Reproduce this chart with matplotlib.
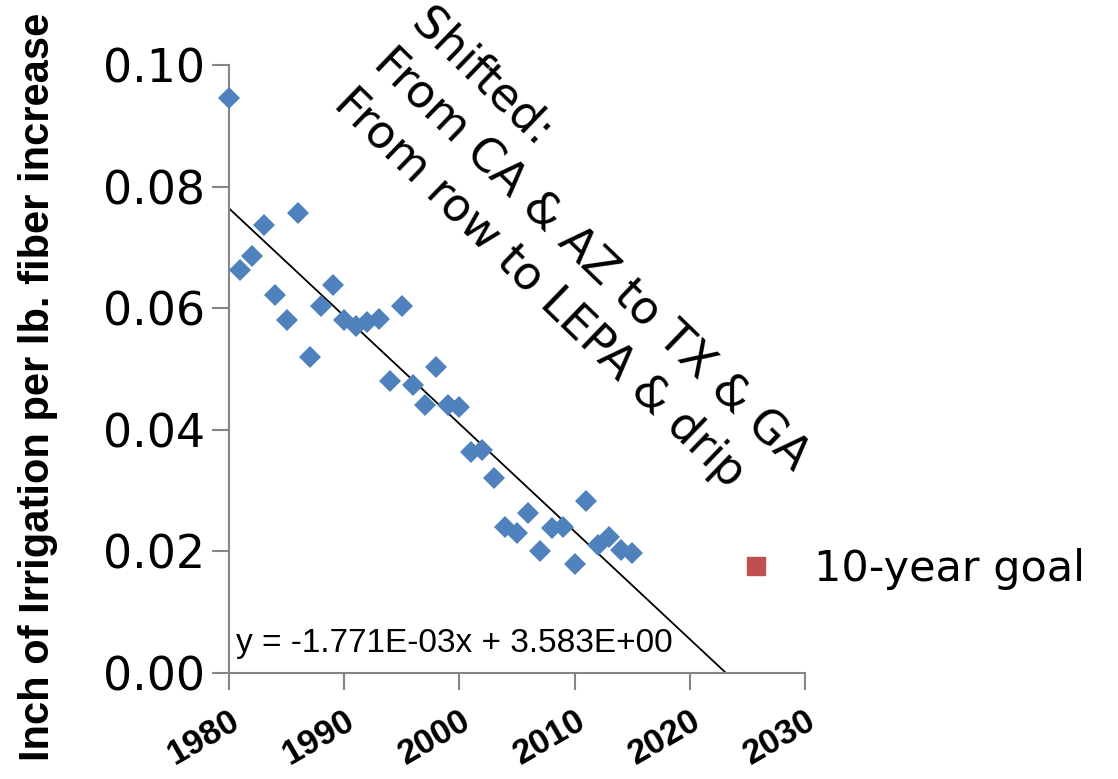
import numpy as np
import matplotlib
matplotlib.use("Agg")
import matplotlib.pyplot as plt
from matplotlib.lines import Line2D

# data
years = np.arange(1980, 2016)
irrigation = [0.0945, 0.0663, 0.0686, 0.0737, 0.0621, 0.0580, 0.0757, 0.0520,
              0.0603, 0.0638, 0.0580, 0.0571, 0.0578, 0.0582, 0.0481, 0.0604,
              0.0474, 0.0441, 0.0504, 0.0441, 0.0438, 0.0364, 0.0367, 0.0321,
              0.0240, 0.0230, 0.0263, 0.0200, 0.0238, 0.0240, 0.0180, 0.0283,
              0.0210, 0.0224, 0.0202, 0.0198]
slope = -1.771e-03
intercept = 3.583e+00
x_ticks = [1980, 1990, 2000, 2010, 2020, 2030]
y_ticks = [0.00, 0.02, 0.04, 0.06, 0.08, 0.10]
note = "Shifted:\nFrom CA & AZ to TX & GA\nFrom row to LEPA & drip"

blue = '#4F81BD'
red = '#C0504D'
grey = '#868686'

fig = plt.figure(figsize=(11.18, 7.79), dpi=100)
ax = fig.add_axes([0.2048, 0.136, 0.5152, 0.7806])

ax.plot(years, irrigation, 'D', color=blue, markersize=11, markeredgewidth=0,
        zorder=3, clip_on=False)

# linear trend line down to where it hits zero
x_end = -intercept / slope
xt = np.array([years[0], x_end])
ax.plot(xt, slope * xt + intercept, color='black', lw=1.3, zorder=2)

ax.set_xlim(1980, 2030)
ax.set_ylim(0, 0.10)
ax.set_xticks(x_ticks)
ax.set_yticks(y_ticks)
ax.set_yticklabels(['%.2f' % v for v in y_ticks], fontsize=33)
ax.set_xticklabels([str(v) for v in x_ticks], fontsize=25, fontweight='bold',
                   rotation=30, ha='right', rotation_mode='anchor',
                   family='Liberation Sans')
ax.tick_params(axis='both', direction='out', length=12, width=1.5, color=grey)
ax.tick_params(axis='x', pad=10)
ax.tick_params(axis='y', pad=5)
for s in ['top', 'right']:
    ax.spines[s].set_visible(False)
for s in ['left', 'bottom']:
    ax.spines[s].set_color(grey)
    ax.spines[s].set_linewidth(1.5)

ax.set_ylabel('Inch of Irrigation per lb. fiber increase', fontsize=30,
              fontweight='bold', family='Liberation Sans')
ax.yaxis.set_label_coords(-0.297, 0.47)

ax.text(0.012, 0.035, 'y = -1.771E-03x + 3.583E+00', transform=ax.transAxes,
        fontsize=24, family='Liberation Sans')

fig.text(0.388, 0.999, note, rotation=-44, rotation_mode='anchor',
         ha='left', va='top', fontsize=33, linespacing=1.3)

handle = Line2D([], [], ls='none', marker='s', color=red, markersize=13)
fig.legend([handle], ['10-year goal'], loc='center left',
           bbox_to_anchor=(0.603, 0.27), frameon=False, fontsize=31,
           handletextpad=0.35)

fig.savefig('out.png', dpi=100)
